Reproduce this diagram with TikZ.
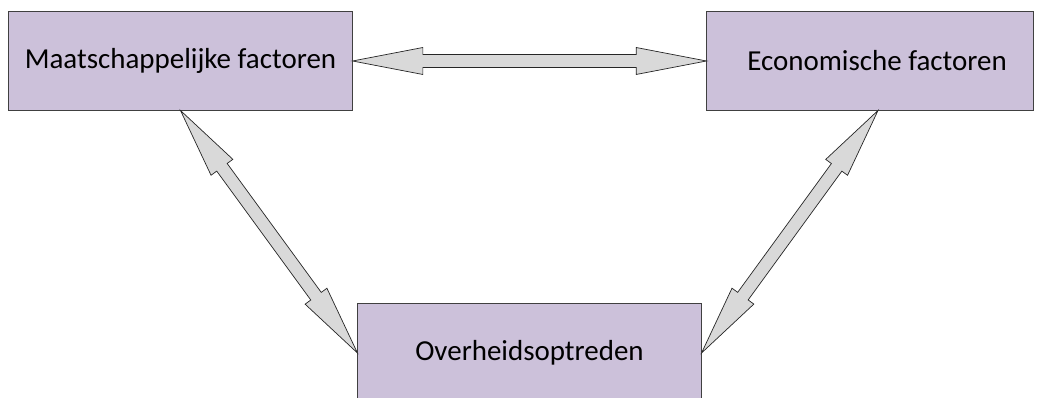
\documentclass[tikz,border=0pt]{standalone}
\usepackage{fontspec}
\setmainfont{Carlito}
\usetikzlibrary{calc}

\definecolor{boxpaars}{RGB}{204,193,218}
\definecolor{pijlgrijs}{RGB}{217,217,217}

% Dubbele blokpijl tussen twee punten
\newcommand{\dubbelpijl}[2]{%
  \draw[pijl] let \p1=($(#2)-(#1)$), \n1={veclen(\x1,\y1)}, \n2={atan2(\y1,\x1)} in
    [shift={(#1)}, rotate=\n2]
    (0pt,0pt) -- (50pt,9.6pt) -- (50pt,4.6pt) -- ({\n1-50pt},4.6pt) -- ({\n1-50pt},9.6pt)
    -- (\n1,0pt) -- ({\n1-50pt},-9.6pt) -- ({\n1-50pt},-4.6pt) -- (50pt,-4.6pt) -- (50pt,-9.6pt) -- cycle;}

\begin{document}
\begin{tikzpicture}[x=0.025cm, y=-0.025cm,
  factor/.style={draw=black!75, fill=boxpaars, line width=0.7pt, minimum height=2.45cm,
    inner sep=0pt, font=\fontsize{20.6}{24}\selectfont},
  pijl/.style={draw=black!85, fill=pijlgrijs, line width=0.5pt, line join=miter}]

    \useasboundingbox (0,0) rectangle (1037,398);

    % Blokken
    \node[factor, minimum width=8.575cm] (mf) at (180.5,61) {Maatschappelijke factoren};
    \node[factor, minimum width=8.15cm] (ef) at (870,61) {\hspace*{0.35cm}Economische factoren};
    \node[factor, minimum width=8.575cm] (ov) at (529.5,353) {Overheidsoptreden};

    % Punt onder rechterblok
    \coordinate (efs) at ($(ef.south)+(8,0)$);

    % Pijlen tussen de blokken
    \dubbelpijl{mf.east}{ef.west}
    \dubbelpijl{mf.south}{ov.west}
    \dubbelpijl{efs}{ov.east}

\end{tikzpicture}
\end{document}
